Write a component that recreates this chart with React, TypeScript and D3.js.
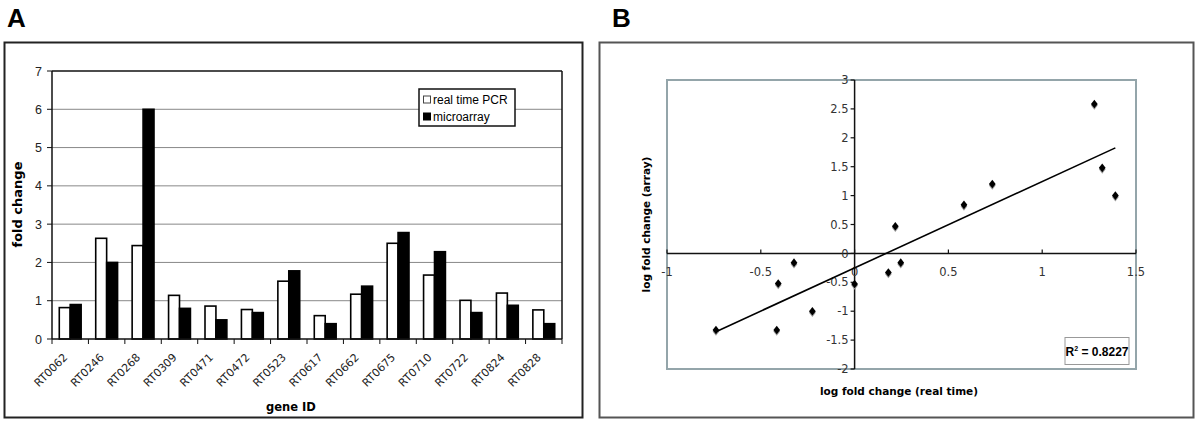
import React from "react";
import * as d3 from "d3";

// ---------- Panel A data ----------
const genes = ["RT0062","RT0246","RT0268","RT0309","RT0471","RT0472","RT0523","RT0617","RT0662","RT0675","RT0710","RT0722","RT0824","RT0828"];
const realTimePCR = [0.82, 2.63, 2.44, 1.14, 0.86, 0.77, 1.51, 0.61, 1.17, 2.5, 1.67, 1.01, 1.2, 0.76];
const microarray = [0.9, 2.0, 6.0, 0.8, 0.5, 0.69, 1.78, 0.4, 1.38, 2.78, 2.28, 0.69, 0.88, 0.4];
const yTicksA = [0, 1, 2, 3, 4, 5, 6, 7];
const seriesNames = ["real time PCR", "microarray"];

// ---------- Panel B data ----------
const logRealTime = [-0.739, -0.407, -0.323, -0.415, -0.225, 0.0, 0.18, 0.217, 0.246, 0.583, 0.734, 1.278, 1.32, 1.39];
const logArray = [-1.325, -0.52, -0.16, -1.325, -1.0, -0.53, -0.33, 0.47, -0.16, 0.84, 1.2, 2.585, 1.48, 1.0];
const xTicksB = [-1, -0.5, 0, 0.5, 1, 1.5];
const yTicksB = [-2, -1.5, -1, -0.5, 0, 0.5, 1, 1.5, 2, 2.5, 3];
const r2Label = "0.8227";

const ARIAL = "'Liberation Sans', Arial, sans-serif";
const VERD = "'DejaVu Sans', Verdana, sans-serif";

function PanelA() {
  const left = 52, right = 562, top = 71, bottom = 339;
  const x = d3.scaleBand<string>().domain(genes).range([left, right]).padding(0);
  const bw = x.bandwidth();
  const sub = d3.scaleBand<string>().domain(seriesNames).range([bw * 0.2, bw * 0.8]).padding(0);
  const y = d3.scaleLinear().domain([0, 7]).range([bottom, top]);
  const boundaries = d3.range(genes.length + 1).map((i) => left + i * x.step());
  return (
    <g>
      <text x={7} y={27} fontFamily={ARIAL} fontWeight="bold" fontSize={26}>A</text>
      <rect x={4.5} y={42.5} width={578} height={375} fill="none" stroke="#222" strokeWidth={2} />
      {yTicksA.filter((t) => t > 0 && t < 7).map((t) => (
        <line key={t} x1={left} x2={right} y1={y(t)} y2={y(t)} stroke="#888" strokeWidth={1} />
      ))}
      <line x1={left} x2={right} y1={y(7)} y2={y(7)} stroke="#111" strokeWidth={1.5} />
      <line x1={right} x2={right} y1={y(7)} y2={y(0)} stroke="#111" strokeWidth={1.5} />
      {genes.map((g, i) => (
        <g key={g}>
          <rect x={(x(g) as number) + (sub(seriesNames[0]) as number)} y={y(realTimePCR[i])}
            width={sub.bandwidth()} height={y(0) - y(realTimePCR[i])} fill="#fff" stroke="#000" strokeWidth={1.6} />
          <rect x={(x(g) as number) + (sub(seriesNames[1]) as number)} y={y(microarray[i])}
            width={sub.bandwidth()} height={y(0) - y(microarray[i])} fill="#000" stroke="#000" strokeWidth={1.6} />
        </g>
      ))}
      <line x1={left} x2={left} y1={y(7)} y2={y(0)} stroke="#111" strokeWidth={1.5} />
      <line x1={left} x2={right} y1={y(0)} y2={y(0)} stroke="#111" strokeWidth={1.5} />
      {yTicksA.map((t) => (
        <g key={t}>
          <line x1={left - 5} x2={left} y1={y(t)} y2={y(t)} stroke="#111" strokeWidth={1} />
          <text x={42} y={y(t)} dy="0.36em" textAnchor="end" fontFamily={ARIAL} fontSize={12.5} fill="#222">{t}</text>
        </g>
      ))}
      {boundaries.map((b, i) => (
        <line key={i} x1={b} x2={b} y1={y(0)} y2={y(0) + 5} stroke="#111" strokeWidth={1} />
      ))}
      {genes.map((g) => {
        const cx = (x(g) as number) + bw / 2;
        return (
          <text key={g} transform={`translate(${cx - 2},${y(0) + 19}) rotate(-45)`} textAnchor="end"
            fontFamily={VERD} fontSize={11} fill="#222">{g}</text>
        );
      })}
      <text transform={`translate(22,204.5) rotate(-90)`} textAnchor="middle"
        fontFamily={VERD} fontWeight="bold" fontSize={13}>fold change</text>
      <text x={291} y={411} textAnchor="middle" fontFamily={VERD} fontWeight="bold" fontSize={11.5}>gene ID</text>
      {/* legend */}
      <rect x={419} y={89} width={96} height={37} fill="#fff" stroke="#111" strokeWidth={1.5} />
      <rect x={423.5} y={96} width={7} height={7} fill="#fff" stroke="#444" strokeWidth={1} />
      <text x={433} y={104} fontFamily={ARIAL} fontSize={12}>{seriesNames[0]}</text>
      <rect x={423.5} y={113} width={7} height={7} fill="#000" stroke="#000" strokeWidth={1} />
      <text x={433} y={121} fontFamily={ARIAL} fontSize={12}>{seriesNames[1]}</text>
    </g>
  );
}

const diamondType = {
  draw(ctx: any, size: number) {
    const r = Math.sqrt(size / 2);
    ctx.moveTo(0, -r * 1.15);
    ctx.lineTo(r * 0.9, 0);
    ctx.lineTo(0, r * 1.15);
    ctx.lineTo(-r * 0.9, 0);
    ctx.closePath();
  },
};

function PanelB() {
  const left = 667, right = 1136, top = 80, bottom = 369;
  const x = d3.scaleLinear().domain([-1, 1.5]).range([left, right]);
  const y = d3.scaleLinear().domain([-2, 3]).range([bottom, top]);
  const mx = d3.mean(logRealTime) as number;
  const my = d3.mean(logArray) as number;
  let sxy = 0, sxx = 0;
  logRealTime.forEach((v, i) => { sxy += (v - mx) * (logArray[i] - my); sxx += (v - mx) * (v - mx); });
  const slope = sxy / sxx;
  const intercept = my - slope * mx;
  const [x0, x1] = d3.extent(logRealTime) as [number, number];
  const linePath = d3.line<number>().x((d) => x(d)).y((d) => y(intercept + slope * d))([x0, x1]);
  const sym = d3.symbol().type(diamondType as any).size(28)();
  return (
    <g>
      <text x={612} y={27} fontFamily={ARIAL} fontWeight="bold" fontSize={26}>B</text>
      <rect x={599.5} y={42.5} width={594} height={375} fill="none" stroke="#555" strokeWidth={2} />
      <rect x={left} y={top} width={right - left} height={bottom - top} fill="none" stroke="#94a5aa" strokeWidth={2} />
      <line x1={left} x2={right} y1={y(0)} y2={y(0)} stroke="#111" strokeWidth={1.5} />
      <line x1={x(0)} x2={x(0)} y1={top} y2={bottom} stroke="#111" strokeWidth={1.5} />
      {xTicksB.map((t) => (
        <g key={t}>
          <line x1={x(t)} x2={x(t)} y1={y(0) - 4} y2={y(0)} stroke="#111" strokeWidth={1.2} />
          <text x={x(t)} y={y(0) + 23} textAnchor="middle" fontFamily={VERD} fontSize={11.5} fill="#333">{t}</text>
        </g>
      ))}
      {yTicksB.map((t) => (
        <g key={t}>
          <line x1={x(0) - 4} x2={x(0)} y1={y(t)} y2={y(t)} stroke="#111" strokeWidth={1.2} />
          <text x={x(0) - 6} y={y(t)} dy="0.36em" textAnchor="end" fontFamily={VERD} fontSize={11.5} fill="#333">{t}</text>
        </g>
      ))}
      {logRealTime.map((v, i) => (
        <g key={i}>
          <path d={sym as string} transform={`translate(${x(v)},${y(logArray[i]) + 1.5})`} fill="#999" />
          <path d={sym as string} transform={`translate(${x(v)},${y(logArray[i])})`} fill="#000" />
        </g>
      ))}
      <path d={linePath as string} fill="none" stroke="#000" strokeWidth={1.6} />
      <rect x={1065} y={337.5} width={64} height={27} fill="#fff" stroke="#999" strokeWidth={1} />
      <text x={1097} y={356} textAnchor="middle" fontFamily={ARIAL} fontWeight="bold" fontSize={12}>
        R<tspan fontSize={7} dy={-5}>2</tspan><tspan dy={5}> = {r2Label}</tspan>
      </text>
      <text x={899} y={395} textAnchor="middle" fontFamily={VERD} fontWeight="bold" fontSize={10.5}>log fold change (real time)</text>
      <text transform={`translate(650,${(top + bottom) / 2}) rotate(-90)`} textAnchor="middle"
        fontFamily={VERD} fontWeight="bold" fontSize={10.5}>log fold change (array)</text>
    </g>
  );
}

export default function App() {
  return (
    <svg width={1200} height={423} style={{ position: "absolute", left: 0, top: 0, background: "#fff" }}>
      <rect x={0} y={0} width={1200} height={423} fill="#fff" />
      <PanelA />
      <PanelB />
    </svg>
  );
}
